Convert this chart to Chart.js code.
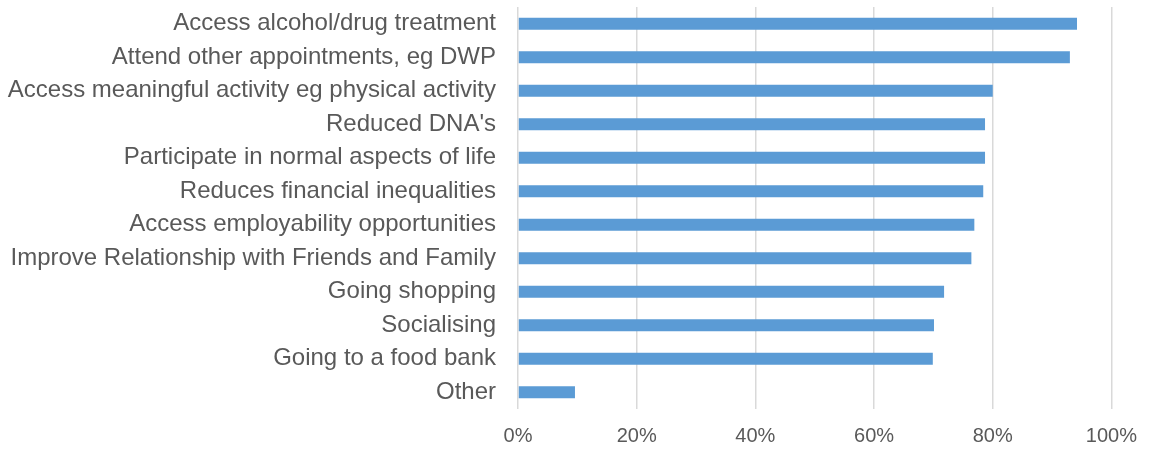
<!DOCTYPE html>
<html>
<head>
<meta charset="utf-8">
<script src="https://cdn.jsdelivr.net/npm/chart.js@4"></script>
<style>
    html, body { margin: 0; padding: 0; background: #fff; }
    .chart-box { width: 1152px; height: 449px; position: relative; }
</style>
</head>
<body>
<div class="chart-box"><canvas id="benefitChart"></canvas></div>
<script>
// Chart data
const categories = [
    'Access alcohol/drug treatment',
    'Attend other appointments, eg DWP',
    'Access meaningful activity eg physical activity',
    "Reduced DNA's",
    'Participate in normal aspects of life',
    'Reduces financial inequalities',
    'Access employability opportunities',
    'Improve Relationship with Friends and Family',
    'Going shopping',
    'Socialising',
    'Going to a food bank',
    'Other'
];
const shares = [94.2, 93.0, 80.0, 78.7, 78.7, 78.4, 76.9, 76.4, 71.8, 70.1, 69.9, 9.6];
const tickValues = [0, 20, 40, 60, 80, 100];

const fontFamily = "'Liberation Sans', Arial, sans-serif";

function initChart() {
    const ctx = document.getElementById('benefitChart').getContext('2d');

    const config = {
        type: 'bar',
        data: {
            labels: categories,
            datasets: [{
                data: shares,
                backgroundColor: '#5b9bd5',
                barPercentage: 0.72,
                categoryPercentage: 0.5
            }]
        },
        options: {
            indexAxis: 'y',
            responsive: true,
            maintainAspectRatio: false,
            animation: false,
            layout: {
                padding: { top: 7, right: 40, bottom: 0, left: 0 }
            },
            plugins: {
                legend: { display: false },
                tooltip: { enabled: false }
            },
            scales: {
                x: {
                    min: 0,
                    max: 100,
                    afterBuildTicks: function(scale) {
                        scale.ticks = tickValues.map(v => ({ value: v }));
                    },
                    afterFit: function(scale) {
                        scale.height = 40;
                    },
                    grid: {
                        color: '#d9d9d9',
                        lineWidth: 1.5,
                        drawTicks: false
                    },
                    border: { display: false },
                    ticks: {
                        padding: 15,
                        color: '#595959',
                        font: { family: fontFamily, size: 20 },
                        callback: function(value) {
                            return value + '%';
                        }
                    }
                },
                y: {
                    afterFit: function(scale) {
                        scale.width = 518;
                        scale.paddingTop = 0;
                        scale.paddingBottom = 0;
                    },
                    grid: { display: false, drawTicks: false },
                    border: { display: false },
                    ticks: {
                        padding: 22,
                        color: '#595959',
                        autoSkip: false,
                        font: { family: fontFamily, size: 24 }
                    }
                }
            }
        }
    };

    new Chart(ctx, config);
}

initChart();
</script>
</body>
</html>
